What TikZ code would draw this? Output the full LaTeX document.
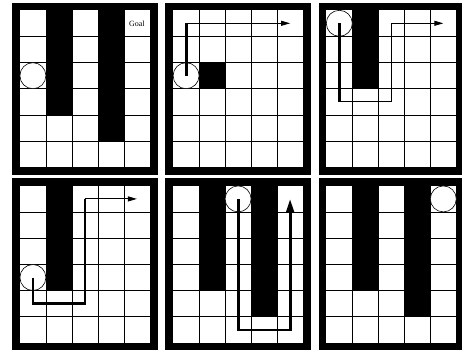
\documentclass[tikz,border=0pt]{standalone}
\usepackage{fontspec}
\setmainfont{Liberation Serif}
\usetikzlibrary{arrows.meta}
\tikzset{
  gridline/.style={line width=0.8pt},
  thickpath/.style={line width=2.8pt},
  thinpath/.style={line width=0.9pt},
  agent/.style={circle, draw, fill=white, line width=0.6pt, minimum size=26pt, inner sep=0pt},
  thinarrow/.style={thinpath, -{Triangle[length=9pt,width=5pt]}},
  thickarrow/.style={thickpath, -{Triangle[length=14pt,width=8pt]}},
}
% panel base: name
\newcommand\mazebase[1]{%
  \fill[black] (0,0) rectangle (145.6,172.4);
  \fill[white] (7.8,7.6) rectangle (137.8,164.8);
  \foreach \k in {1,...,4}{\draw[gridline] ({7.8+26*\k},7.6) -- ({7.8+26*\k},164.8);}
  \foreach \k in {1,...,5}{\draw[gridline] (7.8,{7.6+26.2*\k}) -- (137.8,{7.6+26.2*\k});}
  \foreach \c in {0,...,4}{\foreach \r in {0,...,5}{\coordinate (#1-\c-\r) at ({7.8+26*\c+13},{7.6+26.2*\r+13.1});}}
}
% wall column: col, first row, last row
\newcommand\wallcol[3]{%
  \fill[black] ({7.8+26*#1},{7.6+26.2*#2}) rectangle ({7.8+26*(#1+1)},{7.6+26.2*(#3+1)});
}
\begin{document}
\begin{tikzpicture}[x=1pt,y=-1pt]
\useasboundingbox (0,0) rectangle (462,349);
% Panel 1
\begin{scope}[shift={(12.1,2.6)}]
  \mazebase{A}
  \wallcol{1}{0}{3}
  \wallcol{3}{0}{4}
  \node[agent] (agentA) at (A-0-2) {};
  \node[font=\fontsize{8}{9}\selectfont] (goal) at (A-4-0) {Goal};
\end{scope}
% Panel 2
\begin{scope}[shift={(165.3,2.6)}]
  \mazebase{B}
  \wallcol{1}{2}{2}
  \node[agent] (agentB) at (B-0-2) {};
  \draw[thickpath] (B-0-2) -- (B-0-0);
  \draw[thinarrow] (B-0-0) -- (B-4-0);
\end{scope}
% Panel 3
\begin{scope}[shift={(318.5,2.6)}]
  \mazebase{C}
  \wallcol{1}{0}{2}
  \node[agent] (agentC) at (C-0-0) {};
  \draw[thickpath] (C-0-0) -- (C-0-3);
  \draw[thinarrow] (C-0-3) -- (C-2-3) -- (C-2-0) -- (C-4-0);
\end{scope}
% Panel 4
\begin{scope}[shift={(12.1,178.2)}]
  \mazebase{D}
  \wallcol{1}{0}{3}
  \node[agent] (agentD) at (D-0-3) {};
  \draw[thickpath] (D-0-3) -- (D-0-4) -- (D-2-4) -- (D-2-0);
  \draw[thinarrow] (D-2-0) -- (D-4-0);
\end{scope}
% Panel 5
\begin{scope}[shift={(165.3,178.2)}]
  \mazebase{E}
  \wallcol{1}{0}{3}
  \wallcol{3}{0}{4}
  \node[agent] (agentE) at (E-2-0) {};
  \draw[thickarrow] (E-2-0) -- (E-2-5) -- (E-4-5) -- (E-4-0);
\end{scope}
% Panel 6
\begin{scope}[shift={(318.5,178.2)}]
  \mazebase{F}
  \wallcol{1}{0}{3}
  \wallcol{3}{0}{4}
  \node[agent] (agentF) at (F-4-0) {};
\end{scope}
\end{tikzpicture}
\end{document}
